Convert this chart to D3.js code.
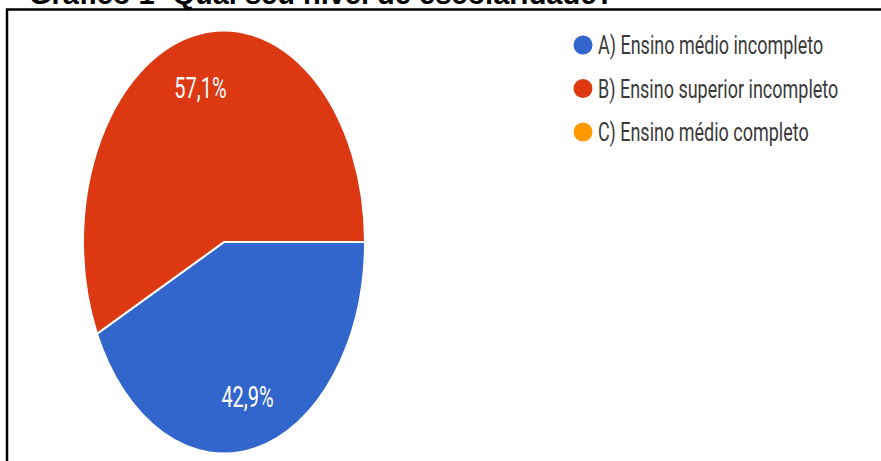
<!DOCTYPE html>
<head>
    <meta charset='utf-8'>
    <style>
        body {
            margin: 0;
            background: #fff;
            font-family: Roboto, 'Noto Sans', Arial, sans-serif;
        }
        .title {
            font-family: 'Liberation Sans', Arial, sans-serif;
            font-weight: bold;
            font-size: 29px;
            fill: #000;
        }
        .legend text {
            font-size: 18px;
            fill: #3a3a3a;
        }
        .slice-label {
            font-size: 20px;
            fill: #fff;
        }
    </style>
</head>

<body>
<div id='vis'></div>
<script src='https://d3js.org/d3.v7.min.js'></script>
<script>
  const width = 881, height = 461

  // dados
  const categories = ['A) Ensino médio incompleto', 'B) Ensino superior incompleto', 'C) Ensino médio completo']
  const values = [3, 4, 0]
  const palette = ['#3366cc', '#dc3912', '#ff9900']
  const titleText = 'Gráfico 1- Qual seu nível de escolaridade?'

  const data = categories.map((c, i) => ({ name: c, value: values[i] }))
  const total = d3.sum(values)

  const cx = 224, cy = 242, r = 141, stretch = 1.5

  const color = d3.scaleOrdinal().domain(categories).range(palette)
  const fmt = v => d3.format('.1f')(v).replace('.', ',') + '%'

  const svg = d3.select('#vis')
    .append('svg')
    .attr('width', width)
    .attr('height', height)

  // título, cortado no topo como na imagem
  svg.append('text')
    .attr('class', 'title')
    .attr('x', 29)
    .attr('y', 4)
    .text(titleText)

  // moldura (só topo e esquerda aparecem)
  svg.append('path')
    .attr('d', `M7,${height} V9.5 H${width}`)
    .attr('fill', 'none')
    .attr('stroke', '#000')
    .attr('stroke-width', 2.5)

  const pie = d3.pie()
    .sort(null)
    .value(d => d.value)
    .startAngle(Math.PI / 2)
    .endAngle(Math.PI / 2 + 2 * Math.PI)

  const arc = d3.arc().innerRadius(0).outerRadius(r)
  const labelArc = d3.arc().innerRadius(r * 0.75).outerRadius(r * 0.75)

  // grupo esticado na vertical, como a imagem original
  const g = svg.append('g')
    .attr('transform', `translate(${cx}, ${cy}) scale(1, ${stretch})`)

  const arcs = pie(data)

  g.selectAll('path.slice')
    .data(arcs)
    .enter()
    .append('path')
    .attr('class', 'slice')
    .attr('d', arc)
    .attr('fill', d => color(d.data.name))
    .attr('stroke', '#fff')
    .attr('stroke-width', 2)
    .attr('vector-effect', 'non-scaling-stroke')

  g.selectAll('text.slice-label')
    .data(arcs.filter(d => d.data.value > 0))
    .enter()
    .append('text')
    .attr('class', 'slice-label')
    .attr('x', d => labelArc.centroid(d)[0])
    .attr('y', d => labelArc.centroid(d)[1])
    .attr('text-anchor', 'middle')
    .attr('dominant-baseline', 'central')
    .text(d => fmt(d.data.value / total * 100))

  // legenda
  const legend = svg.append('g')
    .attr('class', 'legend')
    .attr('transform', 'translate(583, 45)')

  const item = legend.selectAll('g')
    .data(categories)
    .enter()
    .append('g')
    .attr('transform', (d, i) => `translate(0, ${i * 43.5})`)

  item.append('ellipse')
    .attr('rx', 9.5)
    .attr('ry', 9.5)
    .attr('fill', d => color(d))

  item.append('text')
    .attr('x', 15)
    .attr('transform', `scale(1, 1.45)`)
    .attr('dy', '0.36em')
    .text(d => d)
</script>
</body>
